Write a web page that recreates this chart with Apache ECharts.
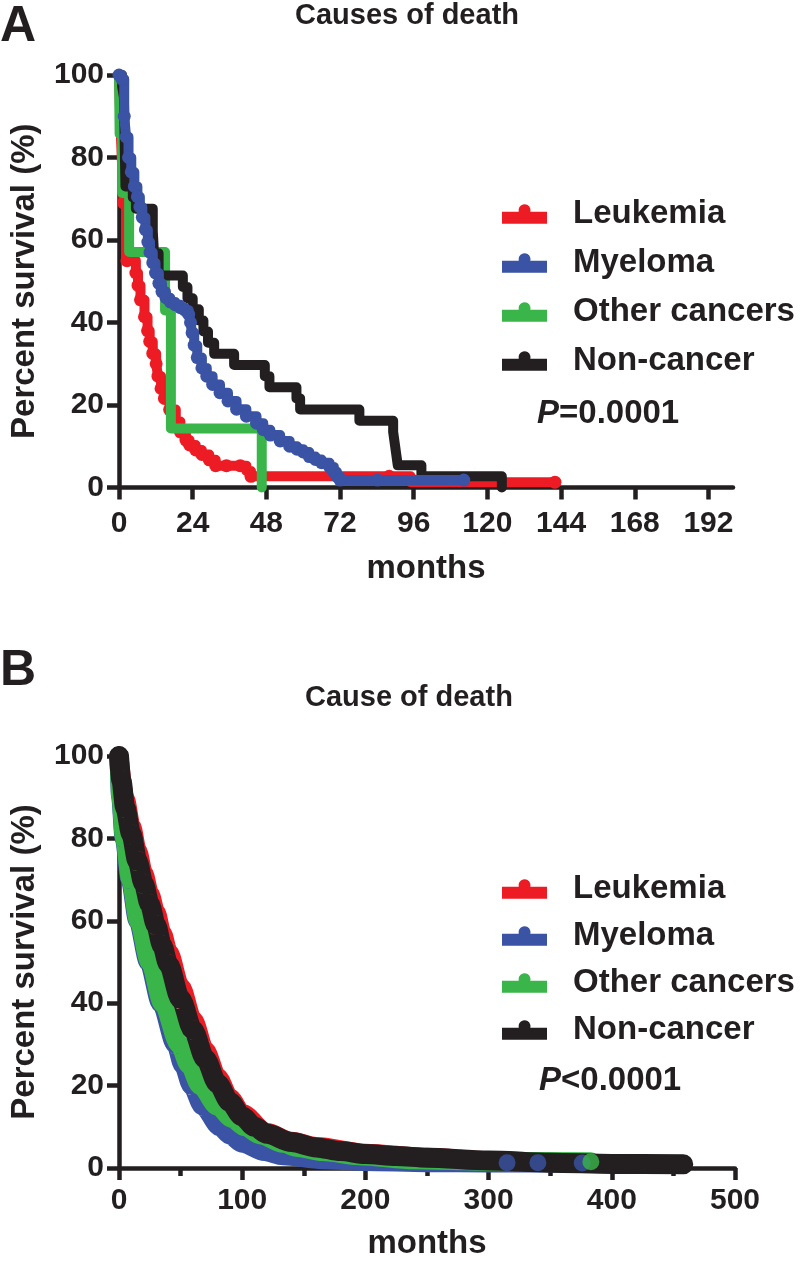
<!DOCTYPE html>
<html><head><meta charset="utf-8">
<script src="https://cdn.jsdelivr.net/npm/echarts/dist/echarts.min.js"></script>
<style>html,body{margin:0;padding:0;background:#fff}#c{width:800px;height:1261px}</style>
</head><body><div id="c"></div>
<script>
// ---------- Panel A (Kaplan-Meier, [months, % survival, censor-mark]) ----------
const leukemiaA = [[0,100,0],[0.4,90,0],[0.9,80,0],[1.5,69,1],[2.6,55,1],[5.5,52,1],[6.2,49,1],[7,45.5,1],[8.3,41.4,1],[9.3,38,1],[10,35.4,1],[11,32.5,1],[12.1,30,1],[12.7,27,1],[13.7,24,1],[14.8,21.6,1],[16.5,18.9,1],[18.5,16,1],[20,13.5,1],[21.8,11.5,1],[23,10.3,1],[25,9.1,1],[27,8,1],[29.4,6.7,1],[31.5,5.3,1],[35,5.3,1],[39.5,5.3,1],[41.5,4,0],[43,2.7,1],[88,2.7,1],[95,1.3,0],[142,1.3,1]];
const myelomaA = [[0,100,1],[1,99,1],[1.7,90,1],[2.3,85,1],[3.1,80,1],[4,76.5,1],[5,73,1],[6,70.5,1],[6.8,68,1],[7.6,65.5,1],[8.6,62.5,1],[9.4,59.5,1],[10.1,57,1],[11,54.5,1],[11.9,52,1],[13,49.5,1],[14,47.5,1],[15.3,46,1],[16.7,45,1],[18.3,44.3,1],[20,43.6,1],[21.5,43,1],[22.7,42,1],[23.3,40,1],[23.8,37.5,1],[24.5,34.5,1],[25.5,31.5,1],[27,29,1],[28.6,27,1],[30.5,25,1],[32.9,23,1],[35.5,21,1],[38.3,19,1],[41.5,17.3,1],[44.8,15.6,1],[47,14,1],[49.3,12.7,1],[52.5,11.3,1],[55.6,10,1],[58,9.3,1],[60,8.6,1],[62,7.5,1],[64,6.8,1],[66,6,1],[68.6,5,1],[70,3.8,1],[71,2.7,1],[72,1.8,1],[84.2,1.8,1],[112.3,1.8,1]];
const otherA = [[0,100,0],[0.2,85.7,0],[1,71.4,0],[3.3,57.1,0],[15,42.9,0],[16.9,14.3,0],[46.5,0,0]];
const nonCancerA = [[0,100,0],[1,97.3,0],[1.6,94.6,0],[2.1,73,0],[4.5,70.3,0],[5.5,67.6,0],[11,62.2,0],[11.4,56.8,0],[12.9,51.4,0],[20.8,48.6,0],[22.3,45.9,0],[24,43.2,0],[26,40.5,0],[27.5,37.8,0],[29,35.1,0],[31,32.4,0],[37.5,29.7,0],[47.5,27,0],[49,24.3,0],[57.8,21.6,0],[59,18.9,0],[78.3,16.2,0],[89.3,13.5,0],[89.8,10.8,0],[90.3,8.1,0],[90.8,5.4,0],[98.5,2.7,0],[124.7,0,0]];
const xTicksA = [0,24,48,72,96,120,144,168,192];

// ---------- Panel B ([months, % survival]) ----------
const leukemiaB = [[0,100],[5,89.5],[10,83],[15,77],[20,71.5],[25,66.5],[30,62],[35,57],[40,52.5],[50,44],[60,36],[70,28.5],[80,22],[90,17],[100,13.2],[120,8.6],[140,6.5],[160,5.2],[200,3.6],[250,2.6],[300,1.8],[350,1.3]];
const myelomaB = [[0,100],[1.3,90],[4.2,80],[9,70],[15.3,60],[24,50],[34,40],[46,30],[52,25],[59,20],[68,15],[82,10],[90,8],[100,6],[118,4],[133,3],[165,2],[200,1.6],[250,1.3],[300,1.2],[376,1.2]];
const otherB = [[0,100],[1.5,90],[4.5,80],[9.5,70],[16,60],[25,50],[35.5,40],[49,30],[57,25],[66,20],[80,15],[92,12],[102,10],[115,8],[133,6],[145,5],[165,4],[195,3],[240,2],[300,1.6],[383,1.5]];
const nonCancerB = [[0,100],[2,94],[5,87.5],[10,81],[15,74.5],[20,69],[25,64],[30,59],[35,54],[40,49.5],[50,41],[60,33.5],[70,26.5],[80,20.5],[90,16],[100,12.5],[110,10],[120,8.3],[140,6.3],[160,5],[180,4.1],[200,3.4],[225,2.9],[250,2.5],[300,1.8],[350,1.3],[400,1],[458,0.9]];
const myelomaDotsB = [[315,1.3],[340,1.3],[376,1.2]];
const otherDotsB = [[383,1.5]];
const nonCancerDotsB = [[320,1.6],[345,1.3],[411,1],[458,0.9]];
const xTicksB = [0,100,200,300,400,500];

const groups = ['Leukemia','Myeloma','Other cancers','Non-cancer'];
const RED='#ED1C24', BLUE='#3A53A4', GREEN='#39B54A', BLACK='#231F20';
const colors = {'Leukemia':RED,'Myeloma':BLUE,'Other cancers':GREEN,'Non-cancer':BLACK};
const F = '"Liberation Sans", Arial, Helvetica, sans-serif';
const ICON = 'path://M0,7.5H16.69A6,6 0 1,1 28.31,7.5H45V19.5H0Z';

function kmLine(name, data, gi, z){
  const c = colors[name];
  return {type:'line', name, xAxisIndex:gi, yAxisIndex:gi, step:'end', z, clip:false, silent:true,
    data: data.map(d=>({value:[d[0],d[1]], symbol: d[2] ? 'circle' : 'none'})),
    symbol:'circle', symbolSize:13, showSymbol:true,
    lineStyle:{color:c, width:10, cap:'round', join:'round'}, itemStyle:{color:c}};
}
function smoothLine(name, data, gi, z, w){
  const c = colors[name];
  return {type:'line', name, xAxisIndex:gi, yAxisIndex:gi, z, clip:false, silent:true,
    data, smooth:0.3, smoothMonotone:'x', showSymbol:false, symbol:'circle',
    lineStyle:{color:c, width:w, cap:'round', join:'round'}, itemStyle:{color:c}};
}
function dots(name, data, gi, z){
  const c = colors[name];
  return {type:'scatter', name, xAxisIndex:gi, yAxisIndex:gi, z, clip:false, silent:true,
    data, symbol:'circle', symbolSize:17, itemStyle:{color:c}};
}
function xAxis(gi, max, ticks, minor, margin, nameGap){
  const a = {type:'value', gridIndex:gi, min:0, max, name:'months', nameLocation:'middle', nameGap,
    nameTextStyle:{fontFamily:F, fontWeight:'bold', fontSize:33, color:BLACK},
    axisLine:{show:true, onZero:false, lineStyle:{color:BLACK, width:4.5}},
    axisTick:{show:true, length:12, lineStyle:{color:BLACK, width:4.5}, customValues:ticks},
    axisLabel:{fontFamily:F, fontWeight:'bold', fontSize:30, color:BLACK, margin, customValues:ticks},
    splitLine:{show:false}};
  if (minor) { a.minorTick = {show:true, splitNumber:2, length:8, lineStyle:{color:BLACK, width:4.5}}; }
  return a;
}
function yAxis(gi){
  return {type:'value', gridIndex:gi, min:0, max:100, interval:20, name:'Percent survival (%)',
    nameLocation:'middle', nameGap:78, nameTextStyle:{fontFamily:F, fontWeight:'bold', fontSize:33, color:BLACK},
    axisLine:{show:true, onZero:false, lineStyle:{color:BLACK, width:4.5}},
    axisTick:{show:true, length:12, lineStyle:{color:BLACK, width:4.5}},
    axisLabel:{fontFamily:F, fontWeight:'bold', fontSize:30, color:BLACK, margin:15},
    splitLine:{show:false}};
}
function legend(top, gap){
  return {orient:'vertical', left:502, top, itemWidth:45, itemHeight:19.5, itemGap:gap, selectedMode:false,
    padding:0, icon:ICON,
    data: groups.map(g=>({name:g, icon:ICON, itemStyle:{color:colors[g]}})),
    textStyle:{fontFamily:F, fontWeight:'bold', fontSize:33, color:BLACK, lineHeight:36, padding:[0,0,0,21]}};
}
function pTitle(txt, left, top){
  return {text:'{i|P}{n|'+txt+'}', left, top, padding:0,
    textStyle:{rich:{i:{fontFamily:F, fontStyle:'italic', fontWeight:'bold', fontSize:33, color:BLACK},
                     n:{fontFamily:F, fontWeight:'bold', fontSize:33, color:BLACK}}}};
}

const option = {
  animation:false,
  backgroundColor:'#fff',
  title:[
    {text:'A', left:0, top:2, padding:0, textStyle:{fontFamily:F, fontWeight:'bold', fontSize:50, color:BLACK}},
    {text:'Causes of death', left:295, top:1, padding:0, textStyle:{fontFamily:F, fontWeight:'bold', fontSize:29, color:BLACK}},
    {text:'B', left:0, top:646, padding:0, textStyle:{fontFamily:F, fontWeight:'bold', fontSize:50, color:BLACK}},
    {text:'Cause of death', left:305, top:683, padding:0, textStyle:{fontFamily:F, fontWeight:'bold', fontSize:29, color:BLACK}},
    pTitle('=0.0001', 537, 397),
    pTitle('<0.0001', 539, 1064)
  ],
  legend:[legend(196, 13), legend(871, 11)],
  grid:[
    {left:115, top:75, width:618, height:412.5},
    {left:115, top:756, width:620, height:414}
  ],
  xAxis:[xAxis(0, 200, xTicksA, false, 21, 65), xAxis(1, 500, xTicksB, true, 18, 59)],
  yAxis:[yAxis(0), yAxis(1)],
  series:[
    kmLine('Leukemia', leukemiaA, 0, 2),
    kmLine('Other cancers', otherA, 0, 3),
    kmLine('Non-cancer', nonCancerA, 0, 4),
    kmLine('Myeloma', myelomaA, 0, 5),
    smoothLine('Leukemia', leukemiaB, 1, 2, 19),
    smoothLine('Myeloma', myelomaB, 1, 3, 19),
    smoothLine('Other cancers', otherB, 1, 4, 19),
    smoothLine('Non-cancer', nonCancerB, 1, 5, 20),
    dots('Non-cancer', nonCancerDotsB, 1, 5),
    dots('Myeloma', myelomaDotsB, 1, 6),
    dots('Other cancers', otherDotsB, 1, 6)
  ]
};
const chart = echarts.init(document.getElementById('c'), null, {renderer:'canvas'});
chart.setOption(option);
</script></body></html>
